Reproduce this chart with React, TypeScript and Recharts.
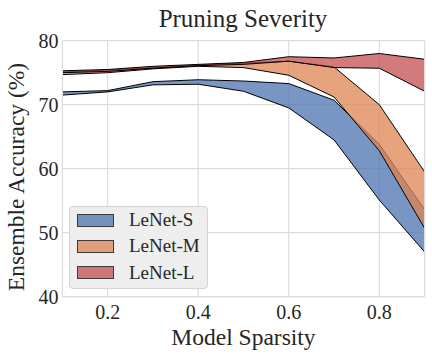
import React from "react";
import { ComposedChart, Area, XAxis, YAxis, CartesianGrid, ReferenceLine } from "recharts";

const sparsity = [0.1, 0.2, 0.3, 0.4, 0.5, 0.6, 0.7, 0.8, 0.9];
const smallLow = [71.5, 72.0, 73.1, 73.2, 72.1, 69.5, 64.5, 55.1, 47.0];
const smallHigh = [72.0, 72.2, 73.6, 73.9, 73.7, 73.3, 70.7, 63.8, 53.6];
const mediumLow = [74.7, 75.0, 75.6, 76.0, 75.8, 74.6, 71.2, 62.8, 50.7];
const mediumHigh = [75.1, 75.4, 75.8, 76.2, 76.5, 76.8, 75.9, 70.0, 59.5];
const largeLow = [75.0, 75.2, 75.7, 76.1, 76.3, 76.8, 75.8, 75.7, 72.1];
const largeHigh = [75.3, 75.5, 76.0, 76.3, 76.6, 77.5, 77.3, 78.0, 77.1];

const seriesNames = ["LeNet-S", "LeNet-M", "LeNet-L"];
const seriesColors = ["#4C72B0", "#DD8452", "#C44E52"];
const xTicks = [0.2, 0.4, 0.6, 0.8];
const yTicks = [40, 50, 60, 70, 80];

const data = sparsity.map((x, i) => ({
  x,
  s: [smallLow[i], smallHigh[i]],
  m: [mediumLow[i], mediumHigh[i]],
  l: [largeLow[i], largeHigh[i]],
}));

const FONT = "'Liberation Serif', 'Times New Roman', serif";
const TEXT = "#262626";
const GRID = "#dcdcdc";

export default function App() {
  const keys = ["s", "m", "l"];
  return (
    <div style={{ position: "absolute", left: 0, top: 0, width: 432, height: 358, background: "#fff", fontFamily: FONT }}>
      <style>{`svg text, .recharts-text { font-family: 'Liberation Serif', 'Times New Roman', serif !important; }`}</style>
      <div style={{ position: "absolute", left: 0, top: 4, width: 486, textAlign: "center", fontSize: 25, color: TEXT, lineHeight: "30px" }}>
        Pruning Severity
      </div>
      <ComposedChart
        width={432}
        height={358}
        data={data}
        margin={{ top: 40.7, right: 7.4, bottom: 0, left: 0 }}
        style={{ fontFamily: FONT }}
      >
        <CartesianGrid stroke={GRID} strokeWidth={1.2} horizontalValues={yTicks} verticalValues={xTicks} />
        <XAxis
          dataKey="x"
          type="number"
          domain={[0.1, 0.9]}
          ticks={xTicks}
          allowDataOverflow
          height={61.3}
          tickFormatter={(v: number) => v.toFixed(1)}
          tick={{ fill: TEXT, fontSize: 20, fontFamily: FONT }}
          tickLine={false}
          tickSize={0}
          tickMargin={8}
          axisLine={{ stroke: GRID, strokeWidth: 1.2 }}
          label={{
            content: () => (
              <text x={243.5} y={345} textAnchor="middle" fill={TEXT} fontSize={23.5} style={{ fontFamily: FONT }}>
                Model Sparsity
              </text>
            ),
          }}
        />
        <YAxis
          type="number"
          domain={[40, 80]}
          ticks={yTicks}
          allowDataOverflow
          width={62.4}
          tick={{ fill: TEXT, fontSize: 20, fontFamily: FONT }}
          tickLine={false}
          tickSize={0}
          tickMargin={4}
          axisLine={{ stroke: GRID, strokeWidth: 1.2 }}
          label={{
            content: () => (
              <text
                x={24}
                y={177}
                transform="rotate(-90 24 177)"
                textAnchor="middle"
                fill={TEXT}
                fontSize={23.5}
                style={{ fontFamily: FONT }}
              >
                Ensemble Accuracy (%)
              </text>
            ),
          }}
        />
        <ReferenceLine x={0.9} stroke={GRID} strokeWidth={1.2} />
        {keys.map((k, i) => (
          <Area
            key={k}
            type="linear"
            dataKey={k}
            name={seriesNames[i]}
            fill={seriesColors[i]}
            fillOpacity={0.75}
            stroke="#000"
            strokeWidth={1}
            dot={false}
            activeDot={false}
            isAnimationActive={false}
          />
        ))}
      </ComposedChart>
      <div
        style={{
          position: "absolute",
          left: 69,
          top: 206,
          width: 139,
          height: 83,
          background: "#eeeeee",
          border: "1px solid #d4d4d4",
          borderRadius: 4,
          boxSizing: "border-box",
        }}
      >
        {seriesNames.map((n, i) => (
          <div key={n} style={{ position: "absolute", left: 7, top: 6 + i * 26.3, height: 14, display: "flex", alignItems: "center" }}>
            <div
              style={{
                width: 37,
                height: 13,
                background: seriesColors[i],
                opacity: 0.75,
                border: "1px solid #000",
                boxSizing: "border-box",
              }}
            />
            <span style={{ marginLeft: 15, fontSize: 19, color: TEXT, lineHeight: "14px", whiteSpace: "nowrap" }}>{n}</span>
          </div>
        ))}
      </div>
    </div>
  );
}
